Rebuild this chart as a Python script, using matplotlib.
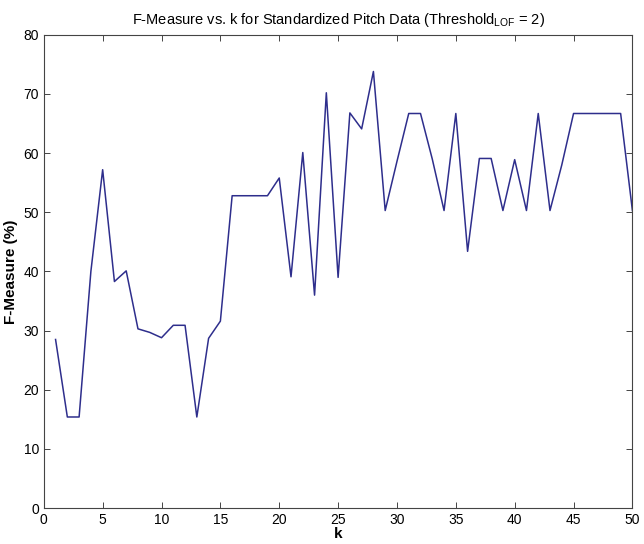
import matplotlib
matplotlib.use('Agg')
import matplotlib.pyplot as plt
import numpy as np

# k values and F-measure (%)
k_values = np.arange(1, 51)
f_measure = [
    28.5, 15.4, 15.4, 40.0, 57.2, 38.3, 40.1, 30.3, 29.7, 28.8,
    30.9, 30.9, 15.4, 28.7, 31.6, 52.8, 52.8, 52.8, 52.8, 55.8,
    39.1, 60.1, 36.0, 70.2, 39.0, 66.8, 64.1, 73.8, 50.3, 58.6,
    66.7, 66.7, 59.0, 50.3, 66.7, 43.4, 59.1, 59.1, 50.3, 58.9,
    50.3, 66.7, 50.3, 58.0, 66.7, 66.7, 66.7, 66.7, 66.7, 50.3,
]
x_ticks = list(range(0, 51, 5))
y_ticks = list(range(0, 81, 10))

plt.rcParams['font.family'] = 'Liberation Sans'
plt.rcParams['mathtext.fontset'] = 'custom'
plt.rcParams['mathtext.rm'] = 'Liberation Sans'

fig = plt.figure(figsize=(6.44, 5.44), dpi=100)
ax = fig.add_axes([0.068, 0.066, 0.914, 0.870])

ax.plot(k_values, f_measure, color='#2e2e8c', linewidth=1.1)

ax.set_xlim(0, 50)
ax.set_ylim(0, 80)
ax.set_xticks(x_ticks)
ax.set_yticks(y_ticks)
ax.tick_params(direction='in', top=True, right=True, length=4,
               labelsize=10, width=0.7, color='#444444')
for spine in ax.spines.values():
    spine.set_linewidth(0.8)
    spine.set_color('#444444')

ax.set_title(r'F-Measure vs. k for Standardized Pitch Data (Threshold$_{\rm LOF}$ = 2)',
             fontsize=10.5, pad=8)
ax.set_xlabel('k', fontsize=11, fontweight='bold', labelpad=0)
ax.set_ylabel('F-Measure (%)', fontsize=11, fontweight='bold', labelpad=4)

plt.savefig('out.png', dpi=100)
plt.close()
